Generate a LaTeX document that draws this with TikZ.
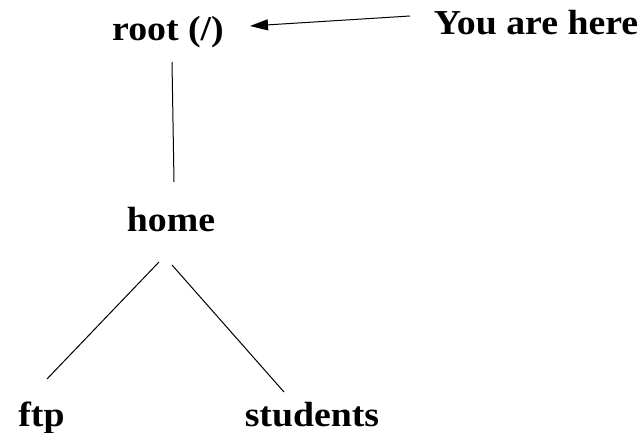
\documentclass[tikz,border=0pt]{standalone}
\usepackage{fontspec}
\setmainfont{Liberation Serif}[BoldFeatures={FakeStretch=1.08}]
\usetikzlibrary{arrows.meta}
\begin{document}
\begin{tikzpicture}[x=1pt,y=-1pt,
  lbl/.style={font=\fontsize{35}{42}\selectfont\bfseries, anchor=base, inner sep=0pt},
  conn/.style={line width=1pt, black}]
\useasboundingbox (0,0) rectangle (643,433);
\node[lbl] (root) at (168,41) {root (/)};
\node[lbl] (here) at (536,35) {You are here};
\node[lbl] (home) at (171,232) {home};
\node[lbl] (ftp) at (41.5,426) {ftp};
\node[lbl] (students) at (312,426) {students};
\coordinate (a1) at (410,16);
\coordinate (a2) at (250,26);
\coordinate (r1) at (172,62);
\coordinate (r2) at (174,182);
\coordinate (l1) at (159,262);
\coordinate (l2) at (47,379);
\coordinate (s1) at (172,265);
\coordinate (s2) at (284,392);
\draw[conn, -{Triangle[length=18pt,width=11pt]}] (a1) -- (a2);
\draw[conn] (r1) -- (r2);
\draw[conn] (l1) -- (l2);
\draw[conn] (s1) -- (s2);
\end{tikzpicture}
\end{document}
